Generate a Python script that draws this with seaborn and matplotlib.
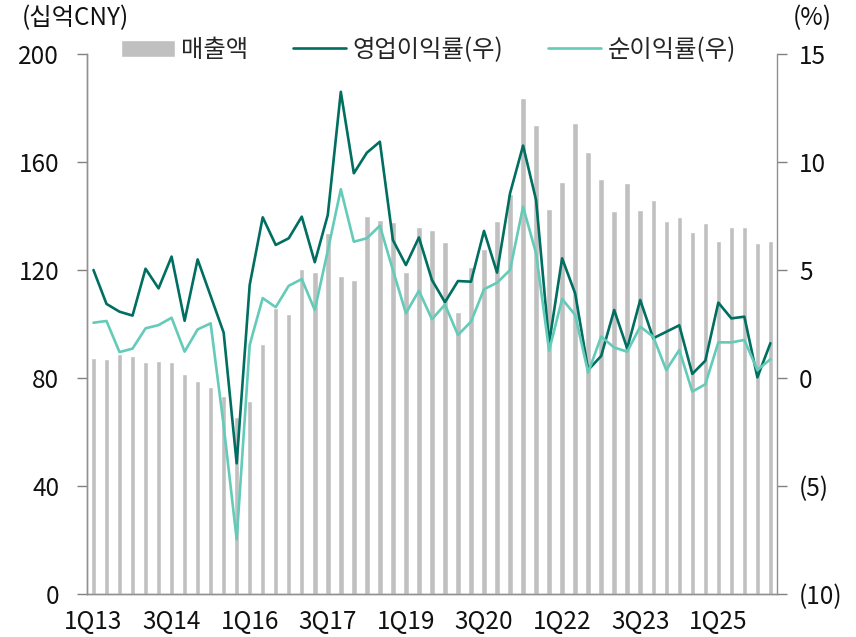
import numpy as np
import pandas as pd
import matplotlib
matplotlib.use("Agg")
import matplotlib.pyplot as plt
import seaborn as sns

# quarters 1Q13 .. 1Q26
quarters = [f"{q}Q{y:02d}" for y in range(13, 27) for q in range(1, 5)][:53]

revenue = [87.4, 87.0, 88.8, 88.3, 85.9, 86.4, 85.9, 81.4, 79.0, 76.5,
           73.4, 65.4, 71.5, 92.6, 106.0, 103.6, 120.4, 119.1, 133.6, 117.8,
           116.3, 140.0, 138.5, 137.6, 119.3, 135.8, 134.8, 130.2, 104.3, 121.2,
           127.6, 138.3, 148.1, 183.6, 173.7, 142.6, 152.6, 174.6, 163.8, 153.7,
           141.9, 152.1, 142.2, 146.1, 138.1, 139.7, 134.1, 137.5, 130.7, 135.9,
           135.9, 129.9, 130.6]

op_margin = [5.0, 3.43, 3.07, 2.89, 5.06, 4.15, 5.62, 2.65, 5.49, 3.80,
             2.10, -3.95, 4.31, 7.44, 6.16, 6.47, 7.47, 5.36, 7.55, 13.25,
             9.48, 10.43, 10.94, 6.39, 5.23, 6.51, 4.54, 3.51, 4.49, 4.46,
             6.81, 4.88, 8.55, 10.76, 8.24, 1.61, 5.54, 3.92, 0.37, 1.02,
             3.15, 1.37, 3.61, 1.84, 2.14, 2.44, 0.19, 0.80, 3.49, 2.76,
             2.84, 0.03, 1.61]

net_margin = [2.56, 2.64, 1.20, 1.36, 2.30, 2.45, 2.79, 1.22, 2.25, 2.53,
              -2.2, -7.47, 1.53, 3.70, 3.28, 4.27, 4.58, 3.15, 5.9, 8.74,
              6.31, 6.47, 7.05, 5.0, 3.0, 4.04, 2.72, 3.40, 1.99, 2.61,
              4.11, 4.41, 5.0, 7.93, 5.77, 1.27, 3.66, 2.92, 0.25, 1.92,
              1.41, 1.22, 2.38, 1.91, 0.37, 1.30, -0.63, -0.29, 1.65, 1.65,
              1.76, 0.37, 0.87]

bar_color = "#c0c0c0"
dark = "#006e60"
light = "#63cbb8"

sns.set_theme(style="white")
plt.rcParams["font.family"] = ["Noto Sans CJK KR", "DejaVu Sans"]

df = pd.DataFrame({"quarter": quarters, "revenue": revenue,
                   "op": op_margin, "net": net_margin})
df["pos"] = np.arange(len(df))

fig = plt.figure(figsize=(8.56, 6.37), dpi=100)
ax = fig.add_axes([0.1016, 0.0675, 0.806, 0.8477])

sns.barplot(data=df, x="quarter", y="revenue", color=bar_color,
            width=0.42, saturation=1, ax=ax, label="매출액")

ax2 = ax.twinx()
sns.lineplot(data=df, x="pos", y="op", color=dark, linewidth=1.9,
             ax=ax2, label="영업이익률(우)")
sns.lineplot(data=df, x="pos", y="net", color=light, linewidth=1.9,
             ax=ax2, label="순이익률(우)")

n = len(df)
ax.set_xlim(-0.5, n - 0.5)
ax.set_ylim(0, 200)
ax2.set_ylim(-10, 15)

ax.set_yticks([0, 40, 80, 120, 160, 200])
ax2.set_yticks([-10, -5, 0, 5, 10, 15])
ax2.set_yticklabels(["(10)", "(5)", "0", "5", "10", "15"])

# tick marks at category boundaries every 4 quarters, labels every 6 quarters
ax.set_xticks(np.arange(-0.5, n, 4))
ax.set_xticklabels([])
ax.set_xticks(np.arange(0, n, 6), minor=True)
ax.set_xticklabels(df["quarter"].iloc[::6], minor=True)

ax.set_xlabel("")
ax.set_ylabel("")
ax2.set_xlabel("")
ax2.set_ylabel("")

fs = 17.5
for a in (ax, ax2):
    a.spines["top"].set_visible(False)
    for s in ("left", "right", "bottom"):
        a.spines[s].set_color("#909090")
        a.spines[s].set_linewidth(1)
    a.tick_params(labelsize=fs, colors="#111111")
ax.tick_params(axis="y", length=7, width=1, color="#808080", pad=13)
ax2.tick_params(axis="y", length=7, width=1, color="#808080", pad=9)
ax.tick_params(axis="x", which="major", length=7, width=1, color="#808080")
ax.tick_params(axis="x", which="minor", length=0, pad=11,
               labelsize=fs, labelcolor="#111111")
ax.spines["right"].set_visible(False)

if ax2.get_legend():
    ax2.get_legend().remove()
if ax.get_legend():
    ax.get_legend().remove()
h1, l1 = ax.get_legend_handles_labels()
h2, l2 = ax2.get_legend_handles_labels()
ax2.legend(h1 + h2, l1 + l2, ncol=3, frameon=False, fontsize=fs,
           loc="center", bbox_to_anchor=(0.495, 1.008), handlelength=2.2,
           handletextpad=0.25, columnspacing=1.85, borderaxespad=0)

fig.text(22 / 856, 1 - 18 / 637, "(십억CNY)", fontsize=fs, va="center", ha="left",
         color="#111111")
fig.text(793 / 856, 1 - 18 / 637, "(%)", fontsize=fs, va="center", ha="left",
         color="#111111")

fig.savefig("out.png", dpi=100)
